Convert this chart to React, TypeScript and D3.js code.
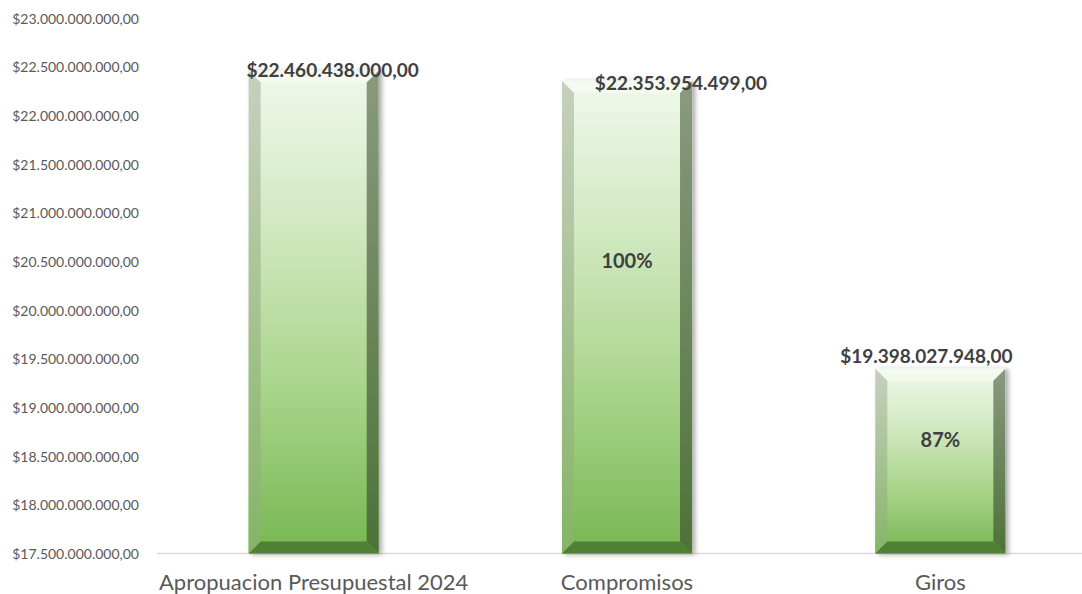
import React from "react";
import * as d3 from "d3";

const categories: string[] = ["Apropuacion Presupuestal 2024", "Compromisos", "Giros"];
const values: number[] = [22460438000, 22353954499, 19398027948];
const percentLabels: string[] = ["", "100%", "87%"];
const yTicks: number[] = [17.5e9, 18e9, 18.5e9, 19e9, 19.5e9, 20e9, 20.5e9, 21e9, 21.5e9, 22e9, 22.5e9, 23e9];

// manual label nudges (layout, px)
const labelOffsets: [number, number][] = [
  [19, -1],
  [54, 2],
  [-14, -13],
];

const W = 1082;
const H = 594;
const left = 157;
const right = 1097;
const top = 18;
const bottom = 553.5;

const locale = d3.formatLocale({
  decimal: ",",
  thousands: ".",
  grouping: [3],
  currency: ["$", ""],
});
const fmt = locale.format("$,.2f");

export default function App() {
  const x = d3.scaleBand<string>().domain(categories).range([left, right]).padding(0);
  const y = d3.scaleLinear().domain([17.5e9, 23e9]).range([bottom, top]);
  const barW = x.bandwidth() * 0.415;
  const bv = 12;
  const font = "Lato, 'Open Sans', sans-serif";

  return (
    <svg
      width={W}
      height={H}
      style={{ position: "absolute", left: 0, top: 0, background: "#fff" }}
    >
      <defs>
        <linearGradient id="barGrad" x1="0" y1="0" x2="0" y2="1">
          <stop offset="0%" stopColor="#f0f8ea" />
          <stop offset="30%" stopColor="#d3eac4" />
          <stop offset="65%" stopColor="#aad58c" />
          <stop offset="100%" stopColor="#77b752" />
        </linearGradient>
        <linearGradient id="leftGrad" x1="0" y1="0" x2="0" y2="1">
          <stop offset="0%" stopColor="#c6d0be" />
          <stop offset="100%" stopColor="#86b466" />
        </linearGradient>
        <linearGradient id="rightGrad" x1="0" y1="0" x2="0" y2="1">
          <stop offset="0%" stopColor="#8a9a80" />
          <stop offset="100%" stopColor="#4d7237" />
        </linearGradient>
        <filter id="shadow" x="-20%" y="-5%" width="140%" height="115%">
          <feDropShadow dx="3" dy="1" stdDeviation="2.5" floodColor="#000" floodOpacity="0.35" />
        </filter>
      </defs>

      {/* y tick labels */}
      {yTicks.map((t) => (
        <text
          key={t}
          x={139}
          y={y(t)}
          textAnchor="end"
          dominantBaseline="central"
          fontFamily={font}
          fontSize={14}
          fill="#595959"
        >
          {fmt(t)}
        </text>
      ))}

      {/* baseline */}
      <line x1={left} x2={right} y1={bottom} y2={bottom} stroke="#d9d9d9" strokeWidth={1.5} />

      {/* bars */}
      {categories.map((c, i) => {
        const cx = (x(c) as number) + x.bandwidth() / 2;
        const x0 = cx - barW / 2;
        const x1 = cx + barW / 2;
        const y0 = y(values[i]);
        const y1 = y(17.5e9);
        return (
          <g key={c}>
            <rect
              x={x0}
              y={y0}
              width={barW}
              height={y1 - y0}
              fill="url(#barGrad)"
              filter="url(#shadow)"
            />
            <polygon
              points={`${x0},${y0} ${x1},${y0} ${x1 - bv},${y0 + bv} ${x0 + bv},${y0 + bv}`}
              fill="#f4faf0"
              opacity={0.9}
            />
            <polygon
              points={`${x0},${y0} ${x0 + bv},${y0 + bv} ${x0 + bv},${y1 - bv} ${x0},${y1}`}
              fill="url(#leftGrad)"
            />
            <polygon
              points={`${x1},${y0} ${x1 - bv},${y0 + bv} ${x1 - bv},${y1 - bv} ${x1},${y1}`}
              fill="url(#rightGrad)"
            />
            <polygon
              points={`${x0},${y1} ${x0 + bv},${y1 - bv} ${x1 - bv},${y1 - bv} ${x1},${y1}`}
              fill="#527f36"
            />
            <text
              x={cx + labelOffsets[i][0]}
              y={y0 + labelOffsets[i][1]}
              textAnchor="middle"
              dominantBaseline="central"
              fontFamily={font}
              fontWeight="bold"
              fontSize={19}
              fill="#404040"
            >
              {fmt(values[i])}
            </text>
            {percentLabels[i] && (
              <text
                x={cx}
                y={y1 - (y1 - y0) * 0.62}
                textAnchor="middle"
                dominantBaseline="central"
                fontFamily={font}
                fontWeight="bold"
                fontSize={20}
                fill="#404040"
              >
                {percentLabels[i]}
              </text>
            )}
          </g>
        );
      })}

      {/* category labels */}
      {categories.map((c) => (
        <text
          key={c}
          x={(x(c) as number) + x.bandwidth() / 2}
          y={590}
          textAnchor="middle"
          fontFamily={font}
          fontSize={22}
          fill="#595959"
        >
          {c}
        </text>
      ))}
    </svg>
  );
}
